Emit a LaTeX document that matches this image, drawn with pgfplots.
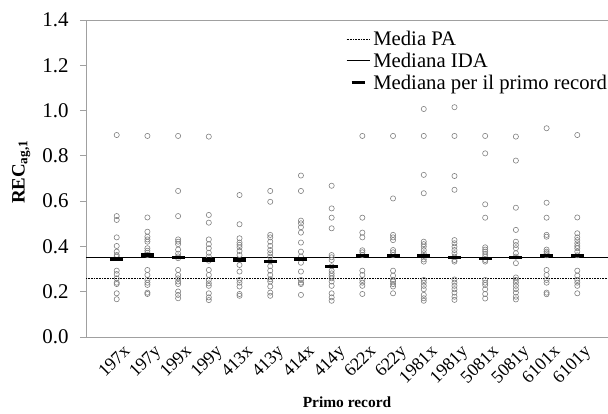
\documentclass[border=0pt]{standalone}
\usepackage{fontspec}
\setmainfont{Liberation Serif}
\usepackage{pgfplots}
\usepackage{pgfplotstable}
\pgfplotsset{compat=1.18}
\definecolor{ptgray}{RGB}{128,128,128}
\definecolor{axgray}{RGB}{160,160,160}
\pgfplotstableread{
x y
1 0.892
1 0.534
1 0.517
1 0.440
1 0.402
1 0.377
1 0.362
1 0.355
1 0.293
1 0.278
1 0.259
1 0.240
1 0.234
1 0.193
1 0.167
2 0.888
2 0.528
2 0.465
2 0.443
2 0.431
2 0.421
2 0.392
2 0.381
2 0.372
2 0.362
2 0.296
2 0.274
2 0.252
2 0.240
2 0.230
2 0.196
2 0.190
3 0.888
3 0.645
3 0.534
3 0.431
3 0.421
3 0.410
3 0.386
3 0.368
3 0.356
3 0.348
3 0.296
3 0.274
3 0.259
3 0.245
3 0.234
3 0.201
3 0.186
3 0.171
4 0.885
4 0.539
4 0.505
4 0.431
4 0.410
4 0.392
4 0.372
4 0.355
4 0.337
4 0.296
4 0.274
4 0.252
4 0.237
4 0.226
4 0.193
4 0.175
4 0.163
5 0.627
5 0.498
5 0.436
5 0.417
5 0.407
5 0.396
5 0.380
5 0.362
5 0.340
5 0.318
5 0.289
5 0.252
5 0.240
5 0.223
5 0.190
5 0.182
6 0.645
6 0.597
6 0.451
6 0.440
6 0.421
6 0.402
6 0.384
6 0.370
6 0.355
6 0.334
6 0.313
6 0.293
6 0.274
6 0.255
6 0.245
6 0.223
6 0.196
6 0.182
7 0.713
7 0.645
7 0.514
7 0.502
7 0.485
7 0.461
7 0.417
7 0.377
7 0.355
7 0.328
7 0.289
7 0.252
7 0.240
7 0.234
7 0.186
8 0.668
8 0.568
8 0.527
8 0.480
8 0.362
8 0.352
8 0.340
8 0.312
8 0.293
8 0.281
8 0.270
8 0.259
8 0.245
8 0.226
8 0.193
8 0.175
8 0.160
9 0.888
9 0.527
9 0.461
9 0.440
9 0.383
9 0.374
9 0.362
9 0.293
9 0.274
9 0.252
9 0.240
9 0.226
9 0.190
10 0.888
10 0.612
10 0.451
10 0.440
10 0.428
10 0.384
10 0.374
10 0.362
10 0.293
10 0.271
10 0.252
10 0.245
10 0.234
10 0.223
10 0.193
11 1.007
11 0.888
11 0.716
11 0.635
11 0.421
11 0.410
11 0.399
11 0.384
11 0.370
11 0.358
11 0.343
11 0.333
11 0.252
11 0.240
11 0.226
11 0.211
11 0.186
11 0.171
11 0.160
12 1.015
12 0.888
12 0.711
12 0.650
12 0.428
12 0.414
12 0.399
12 0.384
12 0.370
12 0.355
12 0.340
12 0.333
12 0.254
12 0.240
12 0.226
12 0.211
12 0.196
12 0.178
12 0.164
13 0.888
13 0.811
13 0.586
13 0.527
13 0.396
13 0.386
13 0.377
13 0.366
13 0.355
13 0.340
13 0.333
13 0.252
13 0.240
13 0.230
13 0.211
13 0.190
13 0.170
14 0.885
14 0.779
14 0.571
14 0.473
14 0.421
14 0.406
14 0.392
14 0.370
14 0.355
14 0.326
14 0.263
14 0.252
14 0.240
14 0.226
14 0.211
14 0.196
14 0.178
14 0.166
15 0.922
15 0.593
15 0.527
15 0.451
15 0.443
15 0.386
15 0.377
15 0.370
15 0.361
15 0.296
15 0.274
15 0.252
15 0.240
15 0.196
15 0.189
16 0.892
16 0.528
16 0.458
16 0.440
16 0.428
16 0.414
16 0.402
16 0.392
16 0.377
16 0.361
16 0.293
16 0.271
16 0.252
16 0.240
16 0.226
16 0.193
}\points
\pgfplotstableread{
x y
1 0.344
2 0.362
3 0.352
4 0.340
5 0.339
6 0.334
7 0.344
8 0.312
9 0.361
10 0.361
11 0.358
12 0.352
13 0.346
14 0.352
15 0.361
16 0.361
}\medians
\begin{document}
\begin{tikzpicture}
\begin{axis}[
  scale only axis,
  width=522bp, height=317bp,
  xmin=0, xmax=17, ymin=0, ymax=1.4,
  axis lines*=left,
  axis line style={axgray, line width=0.8bp, -},
  xtick={1,...,16},
  xticklabels={197x,197y,199x,199y,413x,413y,414x,414y,622x,622y,1981x,1981y,5081x,5081y,6101x,6101y},
  xtick style={draw=none},
  xticklabel style={font=\fontsize{18}{18}\selectfont, rotate=45, anchor=north east, inner sep=0.5bp, yshift=-4bp, xshift=4bp},
  ytick={0,0.2,...,1.4},
  tick align=outside,
  ytick style={axgray, line width=0.8bp},
  major tick length=6bp,
  yticklabel style={font=\fontsize{21}{21}\selectfont, xshift=-8bp},
  /pgf/number format/assume math mode=true,
  yticklabel={\pgfmathprintnumber[fixed,fixed zerofill,precision=1]{\tick}},
  xlabel={\textbf{Primo record}},
  every axis x label/.style={at={(axis description cs:0.5,-0.205)}, anchor=center, font=\fontsize{15.5}{15.5}\selectfont},
  ylabel={\textbf{REC\textsubscript{ag,1}}},
  every axis y label/.style={at={(axis description cs:-0.124,0.52)}, rotate=90, anchor=center, font=\fontsize{19}{19}\selectfont},
  clip=false,
  legend style={at={(axis description cs:0.498,0.969)}, anchor=north west, draw=none, fill=none,
    font=\fontsize{20.8}{22}\selectfont, row sep=3.5bp, inner sep=0bp,
    nodes={inner sep=1.2bp},
    /tikz/every odd column/.style={column sep=2bp}},
  legend cell align=left,
  legend image code/.code={\draw[#1] (0bp,0bp) -- (23bp,0bp);},
]
\draw[axgray, line width=0.8bp] (rel axis cs:0,1) -- (rel axis cs:1,1);
\addplot[forget plot, only marks, mark=o, mark size=2.6bp, draw=ptgray, mark options={line width=0.6bp, draw=ptgray}] table[x=x,y=y]{\points};
\addplot[black, line width=0.6bp, densely dotted] coordinates {(0,0.259) (17,0.259)};
\addlegendentry{Media PA}
\addplot[black, line width=0.9bp] coordinates {(0,0.352) (17,0.352)};
\addlegendentry{Mediana IDA}
\addplot[only marks, mark=-, mark size=6.5bp, mark options={line width=3.5bp, black},
  legend image code/.code={\draw[line width=3.5bp] (5bp,0bp) -- (18bp,0bp);}] table[x=x,y=y]{\medians};
\addlegendentry{Mediana per il primo record}
\coordinate (bl) at (rel axis cs:0,0);
\end{axis}
\pgfresetboundingbox
\path (bl) ++(-86bp,-77bp) rectangle ++(608bp,414bp);
\end{tikzpicture}
\end{document}
